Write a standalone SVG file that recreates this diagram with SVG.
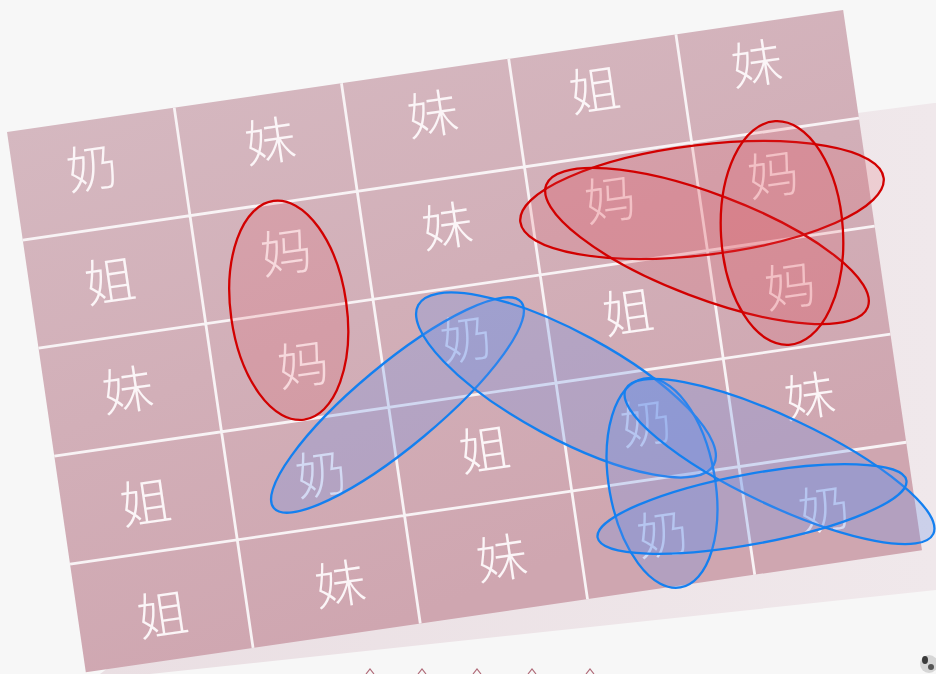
<svg xmlns="http://www.w3.org/2000/svg" width="936" height="674" viewBox="0 0 936 674">
<defs>
<linearGradient id="cellg" x1="0" y1="0" x2="0.35" y2="1">
<stop offset="0" stop-color="#d5b8c0"/>
<stop offset="1" stop-color="#cfa6b0"/>
</linearGradient>
<linearGradient id="panelg" x1="0" y1="0" x2="1" y2="0">
<stop offset="0" stop-color="#eadfe3"/>
<stop offset="1" stop-color="#f0e8eb"/>
</linearGradient>
<style>
.ch{font-family:"Noto Sans CJK SC","Noto Sans CJK TC",sans-serif;font-size:51px;font-weight:300;fill:#fbf5f7;text-anchor:middle}
.gl{stroke:#f8f3f5;stroke-width:2.8;fill:none}
.red{fill:rgba(226,70,80,0.16);stroke:#d20000;stroke-width:2.3}
.blue{fill:rgba(105,145,232,0.27);stroke:#1480f0;stroke-width:2.3}
.mk{fill:none;stroke:#b06a78;stroke-width:1.2}
</style>
</defs>
<rect width="936" height="674" fill="#f7f7f7"/>
<polygon points="850,114 934,103 936,103 936,590 150,674 100,674" fill="url(#panelg)"/>
<g id="grid" transform="translate(7,132) rotate(-8.3)">
<rect x="0" y="0" width="845" height="546" fill="url(#cellg)"/>
<path class="gl" d="M169,0V546M338,0V546M507,0V546M676,0V546M0,109.2H845M0,218.4H845M0,327.6H845M0,436.8H845"/>
</g>
<g id="cell-r1c1" transform="translate(92,168) rotate(-8.3)"><text class="ch" y="19">奶</text></g>
<g id="cell-r1c2" transform="translate(270,141) rotate(-8.3)"><text class="ch" y="19">妹</text></g>
<g id="cell-r1c3" transform="translate(432.5,114) rotate(-8.3)"><text class="ch" y="19">妹</text></g>
<g id="cell-r1c4" transform="translate(594.5,90) rotate(-8.3)"><text class="ch" y="19">姐</text></g>
<g id="cell-r1c5" transform="translate(756.5,63.5) rotate(-8.3)"><text class="ch" y="19">妹</text></g>
<g id="cell-r2c1" transform="translate(110,281) rotate(-8.3)"><text class="ch" y="19">姐</text></g>
<g id="cell-r2c2" transform="translate(286,252) rotate(-8.3)"><text class="ch" y="19">妈</text></g>
<g id="cell-r2c3" transform="translate(447,226) rotate(-8.3)"><text class="ch" y="19">妹</text></g>
<g id="cell-r2c4" transform="translate(610,199.5) rotate(-8.3)"><text class="ch" y="19">妈</text></g>
<g id="cell-r2c5" transform="translate(773,174.5) rotate(-8.3)"><text class="ch" y="19">妈</text></g>
<g id="cell-r3c1" transform="translate(127.5,390) rotate(-8.3)"><text class="ch" y="19">妹</text></g>
<g id="cell-r3c2" transform="translate(303,364.5) rotate(-8.3)"><text class="ch" y="19">妈</text></g>
<g id="cell-r3c3" transform="translate(466,339) rotate(-8.3)"><text class="ch" y="19">奶</text></g>
<g id="cell-r3c4" transform="translate(628,312) rotate(-8.3)"><text class="ch" y="19">姐</text></g>
<g id="cell-r3c5" transform="translate(790,286) rotate(-8.3)"><text class="ch" y="19">妈</text></g>
<g id="cell-r4c1" transform="translate(145.5,502.5) rotate(-8.3)"><text class="ch" y="19">姐</text></g>
<g id="cell-r4c2" transform="translate(321,474) rotate(-8.3)"><text class="ch" y="19">奶</text></g>
<g id="cell-r4c3" transform="translate(484.5,449.5) rotate(-8.3)"><text class="ch" y="19">姐</text></g>
<g id="cell-r4c4" transform="translate(646,423) rotate(-8.3)"><text class="ch" y="19">奶</text></g>
<g id="cell-r4c5" transform="translate(809.5,396) rotate(-8.3)"><text class="ch" y="19">妹</text></g>
<g id="cell-r5c1" transform="translate(162.5,614.5) rotate(-8.3)"><text class="ch" y="19">姐</text></g>
<g id="cell-r5c2" transform="translate(340,584) rotate(-8.3)"><text class="ch" y="19">妹</text></g>
<g id="cell-r5c3" transform="translate(501.5,558) rotate(-8.3)"><text class="ch" y="19">妹</text></g>
<g id="cell-r5c4" transform="translate(662.5,534) rotate(-8.3)"><text class="ch" y="19">奶</text></g>
<g id="cell-r5c5" transform="translate(824,509) rotate(-8.3)"><text class="ch" y="19">奶</text></g>
<g id="loops">
<ellipse class="red" cx="0" cy="0" rx="58" ry="110.4" transform="translate(288.75,310.3) rotate(-8)"/>
<ellipse class="red" cx="0" cy="0" rx="183" ry="55" transform="translate(702,200) rotate(-6.9)"/>
<ellipse class="red" cx="0" cy="0" rx="172" ry="52" transform="translate(707,246) rotate(20.8)"/>
<ellipse class="red" cx="0" cy="0" rx="61" ry="112" transform="translate(782,233) rotate(-3.5)"/>
<ellipse class="blue" cx="0" cy="0" rx="161" ry="41" transform="translate(397.5,405) rotate(-39.8)"/>
<ellipse class="blue" cx="0" cy="0" rx="168" ry="53" transform="translate(566,385) rotate(28.4)"/>
<ellipse class="blue" cx="0" cy="0" rx="53" ry="106" transform="translate(662,483) rotate(-10)"/>
<ellipse class="blue" cx="0" cy="0" rx="170" ry="44" transform="translate(779.5,461.5) rotate(25.2)"/>
<ellipse class="blue" cx="0" cy="0" rx="157" ry="35" transform="translate(752,509) rotate(-10.5)"/>
</g>
<path class="mk" d="M366,674L370,669L374,674M418,674L422,669L426,674M473,674L477,669L481,674M528,674L532,669L536,674M586,674L590,669L594,674"/>
<g id="panda">
<circle cx="929" cy="664" r="9" fill="#d6d6d6"/>
<ellipse cx="925" cy="660" rx="3" ry="4" fill="#3a3a3a"/>
<circle cx="931" cy="667" r="3" fill="#555"/>
</g>
</svg>
